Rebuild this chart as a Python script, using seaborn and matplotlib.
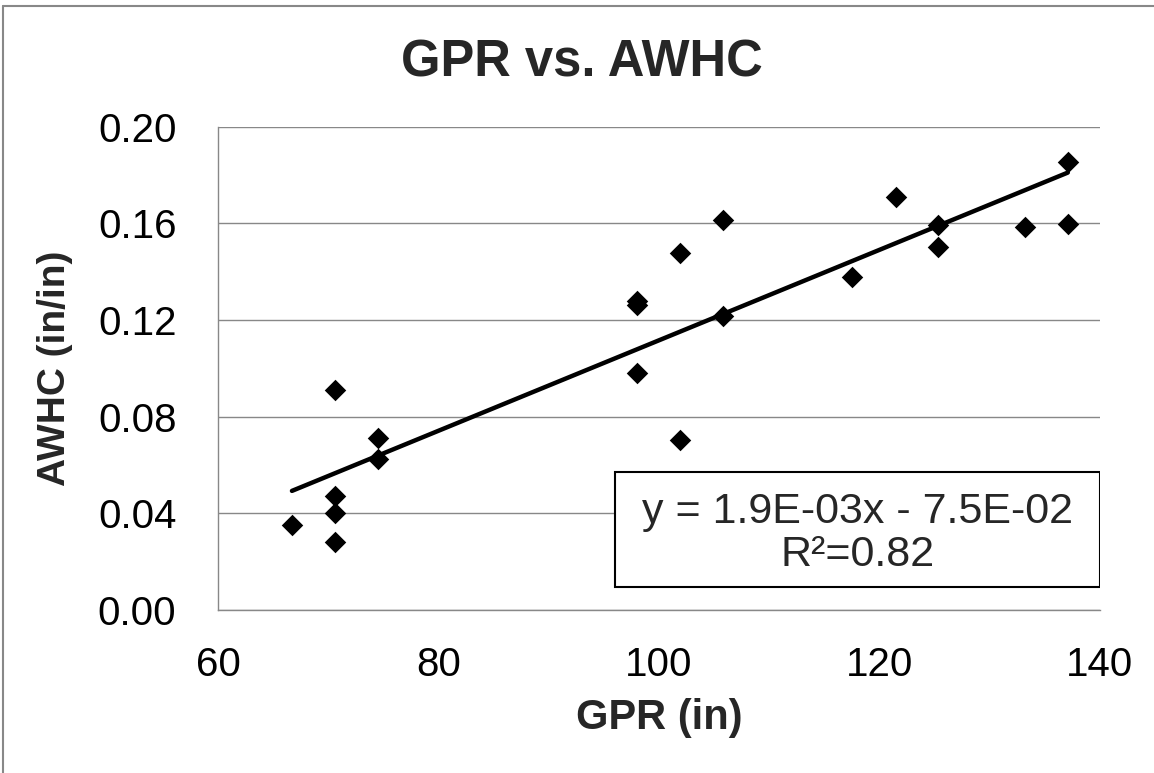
import numpy as np
import pandas as pd
import seaborn as sns
from matplotlib import pyplot as plt
from matplotlib.patches import Rectangle
from matplotlib.lines import Line2D

# values
gpr = [66.7, 70.6, 70.6, 70.6, 70.6, 74.5, 74.5,
       98.0, 98.0, 98.0, 101.9, 101.9, 105.8, 105.8,
       117.5, 121.5, 125.3, 125.3, 133.2, 137.1, 137.1]
awhc = [0.0352, 0.0911, 0.0472, 0.0402, 0.0282, 0.0712, 0.0625,
        0.1280, 0.1263, 0.0981, 0.1478, 0.0704, 0.1615, 0.1217,
        0.1379, 0.1710, 0.1594, 0.1503, 0.1586, 0.1855, 0.1598]
x_ticks = [60, 80, 100, 120, 140]
y_ticks = [0.00, 0.04, 0.08, 0.12, 0.16, 0.20]
fit_label = "y = 1.9E-03x - 7.5E-02\nR\u00b2=0.82"

df = pd.DataFrame({"GPR": gpr, "AWHC": awhc})

sns.set_theme(style="white")
plt.rcParams['font.family'] = ['Liberation Sans', 'DejaVu Sans']

grey = '#888888'

fig = plt.figure(figsize=(11.54, 7.73), dpi=100)
ax = fig.add_axes([0.189, 0.211, 0.764, 0.625])

sns.regplot(data=df, x="GPR", y="AWHC", ci=None, ax=ax, marker="D", color="black",
            scatter_kws={"s": 120, "linewidths": 0, "alpha": 1, "zorder": 3},
            line_kws={"lw": 3.2, "zorder": 4})

ax.set_xlim(60, 140)
ax.set_ylim(0, 0.2)
ax.set_xticks(x_ticks)
ax.set_yticks(y_ticks)
ax.set_yticklabels([f"{v:.2f}" for v in y_ticks])
ax.yaxis.grid(True, color=grey, lw=1)
ax.xaxis.grid(False)
ax.set_axisbelow(True)
for side in ["top", "right"]:
    ax.spines[side].set_visible(False)
for side in ["left", "bottom"]:
    ax.spines[side].set_color(grey)
    ax.spines[side].set_linewidth(1)
ax.tick_params(length=0, labelsize=29, colors="black")
ax.tick_params(axis="x", pad=26)
ax.tick_params(axis="y", pad=30)

ax.set_xlabel("GPR (in)", fontsize=30, fontweight="bold", labelpad=10)
ax.set_ylabel("AWHC (in/in)", fontsize=28, fontweight="bold", labelpad=18)
fig.text(0.504, 0.918, "GPR vs. AWHC", ha="center", va="center",
         fontsize=36.5, fontweight="bold")

# equation box
box = Rectangle((0.45, 0.048), 0.55, 0.238, transform=ax.transAxes,
                facecolor="white", edgecolor="black", lw=1.5, zorder=5)
ax.add_patch(box)
ax.text(0.725, 0.159, fit_label, transform=ax.transAxes, ha="center", va="center",
        multialignment="center", fontsize=31, linespacing=1.1, zorder=6)

# chart area border (top and left edges only visible)
fig.add_artist(Line2D([0.003, 0.003], [0, 0.9916], transform=fig.transFigure,
                      color=grey, lw=1.5))
fig.add_artist(Line2D([0.003, 1], [0.9916, 0.9916], transform=fig.transFigure,
                      color=grey, lw=1.5))

fig.savefig("out.png", dpi=100)
